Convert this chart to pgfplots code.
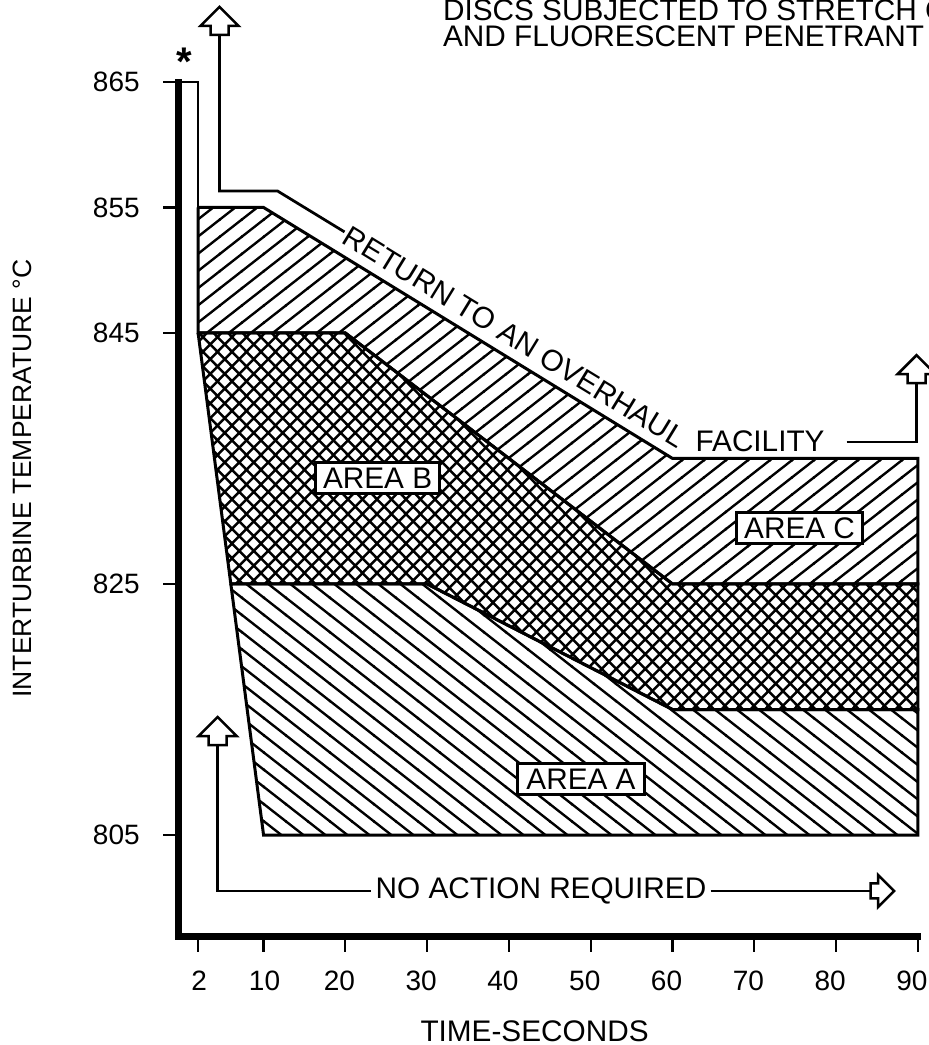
\documentclass[border=0pt]{standalone}
\usepackage{fontspec}
\setmainfont{Liberation Sans}
\usepackage{pgfplots}
\pgfplotsset{compat=1.18}
\usetikzlibrary{patterns}

\pgfdeclarepatternformonly{hNE}{\pgfqpoint{-0.5pt}{-0.5pt}}{\pgfqpoint{9.3pt}{7.38pt}}{\pgfqpoint{8.8pt}{6.88pt}}{%
  \pgfsetlinewidth{0.95pt}%
  \pgfpathmoveto{\pgfqpoint{-0.5pt}{-0.391pt}}%
  \pgfpathlineto{\pgfqpoint{9.3pt}{7.271pt}}%
  \pgfusepath{stroke}}
\pgfdeclarepatternformonly{hNW}{\pgfqpoint{-0.5pt}{-0.5pt}}{\pgfqpoint{9.3pt}{7.38pt}}{\pgfqpoint{8.8pt}{6.88pt}}{%
  \pgfsetlinewidth{0.95pt}%
  \pgfpathmoveto{\pgfqpoint{-0.5pt}{7.271pt}}%
  \pgfpathlineto{\pgfqpoint{9.3pt}{-0.391pt}}%
  \pgfusepath{stroke}}
\pgfdeclarepatternformonly{hX}{\pgfqpoint{-0.4pt}{-0.4pt}}{\pgfqpoint{6.2pt}{6.3pt}}{\pgfqpoint{5.8pt}{5.9pt}}{%
  \pgfsetlinewidth{1pt}%
  \pgfpathmoveto{\pgfqpoint{-0.4pt}{-0.407pt}}%
  \pgfpathlineto{\pgfqpoint{6.2pt}{6.307pt}}%
  \pgfpathmoveto{\pgfqpoint{-0.4pt}{6.307pt}}%
  \pgfpathlineto{\pgfqpoint{6.2pt}{-0.407pt}}%
  \pgfusepath{stroke}}

\newcommand\af{\fontsize{11.9}{14}\selectfont}
\newcommand\uparr[1]{\draw[line width=1pt, fill=white] #1 ++(-3.6pt,0pt) -- ++(0pt,3.6pt) -- ++(-4pt,0pt) -- ++(7.6pt,7.6pt) -- ++(7.6pt,-7.6pt) -- ++(-4pt,0pt) -- ++(0pt,-3.6pt) -- cycle;}
\newcommand\rtarr[1]{\draw[line width=1pt, fill=white] #1 ++(0pt,-3pt) -- ++(3pt,0pt) -- ++(0pt,-3.4pt) -- ++(6.4pt,6.4pt) -- ++(-6.4pt,6.4pt) -- ++(0pt,-3.4pt) -- ++(-3pt,0pt) -- cycle;}

\begin{document}
\begin{tikzpicture}
\begin{axis}[
  scale only axis, width=295.8pt, height=341.9pt,
  xmin=-0.4, xmax=90, ymin=796.9, ymax=865,
  axis x line*=bottom, axis y line*=left,
  axis line style={line width=2.6pt, -, line cap=rect},
  xtick={20,30,40,50,60,70,80,90},
  extra x ticks={2,10},
  extra x tick style={xticklabel style={xshift=2.8pt}},
  ytick={805,825,845,855,865},
  tick align=outside, major tick length=6pt,
  tick style={black, line width=0.9pt},
  ticklabel style={font=\fontsize{11.2}{13}\selectfont},
  /pgf/number format/assume math mode=true,
  xticklabel style={yshift=-4pt, xshift=-2.4pt},
  yticklabel style={xshift=-6pt},
  clip=false,
]
% Area C (upper, / hatch)
\addplot[draw=black, line width=1.2pt, pattern=hNE]
  coordinates {(2,855) (10,855) (60,835) (90,835) (90,825) (60,825) (20,845) (2,845) (2,855)};
% Area B (crosshatch)
\addplot[draw=black, line width=1.2pt, pattern=hX]
  coordinates {(2,845) (20,845) (60,825) (90,825) (90,815) (60,815) (30,825) (6,825) (2,845)};
% Area A (\ hatch)
\addplot[draw=black, line width=1.2pt, pattern=hNW]
  coordinates {(6,825) (30,825) (60,815) (90,815) (90,805) (10,805) (6,825)};
% top strip
\addplot[black, line width=1pt] coordinates {(-0.4,865) (2,865) (2,845)};
% return-to-overhaul line
\addplot[black, line width=1.1pt] coordinates {(4.62,868.75) (4.62,856.31) (11.71,856.31) (19.9,853.05)};
\addplot[black, line width=1.1pt] coordinates {(81.27,836.31) (89.83,836.31) (89.83,841.0)};
% no action line
\addplot[black, line width=1.1pt] coordinates {(4.38,812.17) (4.38,800.54) (23.08,800.54)};
\addplot[black, line width=1.1pt] coordinates {(64.65,800.54) (84.2,800.54)};
\uparr{(axis cs:4.62,868.75)}
\uparr{(axis cs:89.83,841.0)}
\uparr{(axis cs:4.38,812.17)}
\rtarr{(axis cs:84.2,800.54)}
% labels
\node[font=\af, rotate=-31.5] at (axis cs:40.68,844.68) {RETURN TO AN OVERHAUL};
\node[font=\af] at (axis cs:70.7,836.39) {FACILITY};
\node[font=\af] at (axis cs:43.92,800.54) {NO ACTION REQUIRED};
\node[font=\af, draw, fill=white, line width=1pt, inner xsep=3pt, inner ysep=2pt, text height=8.5pt, text depth=0pt] at (axis cs:23.94,833.45) {AREA B};
\node[font=\af, draw, fill=white, line width=1pt, inner xsep=3pt, inner ysep=2pt, text height=8.5pt, text depth=0pt] at (axis cs:75.53,829.46) {AREA C};
\node[font=\af, draw, fill=white, line width=1pt, inner xsep=3.5pt, inner ysep=2pt, text height=8.5pt, text depth=0pt] at (axis cs:48.81,809.46) {AREA A};
\node[font=\fontsize{16}{18}\selectfont\bfseries, anchor=base] at (axis cs:0.34,865.5) {*};
\node[font=\af, inner sep=0pt, anchor=base west] at (axis cs:31.88,869.86) {DISCS SUBJECTED TO STRETCH C};
\node[font=\af, inner sep=0pt, anchor=base west] at (axis cs:31.88,867.79) {AND FLUORESCENT PENETRANT};
\node[font=\af] at (axis cs:43.13,789.38) {TIME-SECONDS};
\node[font=\fontsize{10.6}{12}\selectfont, rotate=90] at (axis cs:-19.46,833.4) {INTERTURBINE TEMPERATURE °C};
\coordinate (bbll) at (axis cs:-22.22,788.27);
\coordinate (bbur) at (axis cs:91.35,871.53);
\end{axis}
\pgfresetboundingbox
\path[use as bounding box] (bbll) rectangle (bbur);
\end{tikzpicture}
\end{document}
